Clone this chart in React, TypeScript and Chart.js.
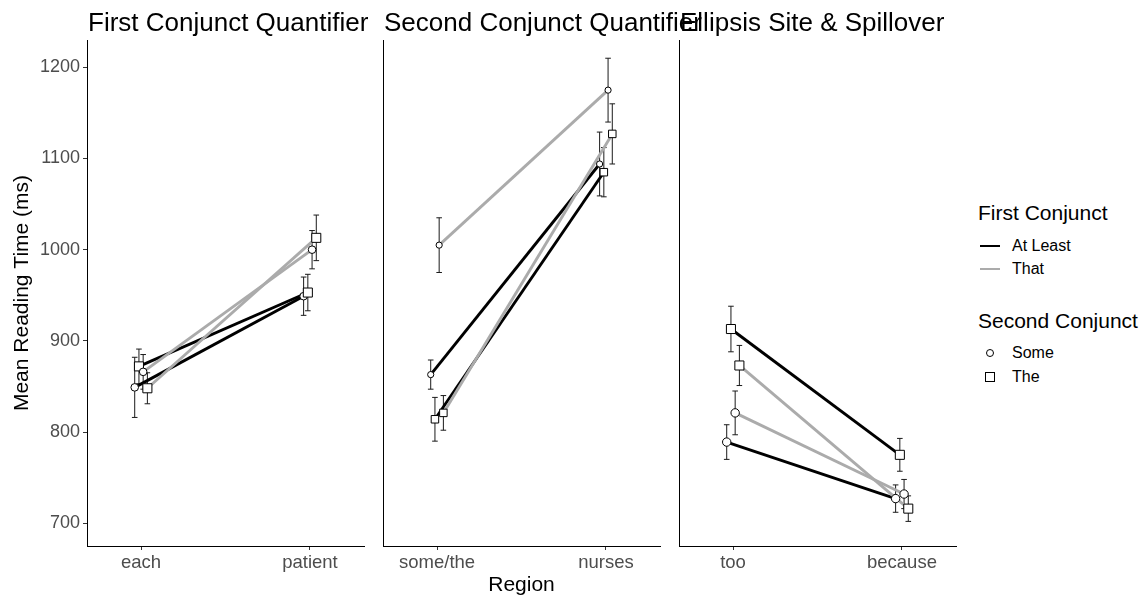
import React, { useEffect, useRef } from "react";
import { Chart, registerables } from "chart.js";
Chart.register(...registerables);

const FONT = "'Liberation Sans', Arial, sans-serif";
Chart.defaults.font.family = FONT;

// ---------------- data ----------------
const panelTitles = ["First Conjunct Quantifier", "Second Conjunct Quantifier", "Ellipsis Site & Spillover"];
const regionLabels = [["each", "patient"], ["some/the", "nurses"], ["too", "because"]];
const firstConjunctLevels = ["At Least", "That"];
const secondConjunctLevels = ["Some", "The"];
const yTickValues = [700, 800, 900, 1000, 1100, 1200];

// mean reading time per panel: [region1, region2]
const meanAtLeastSome = [[849, 949], [863, 1094], [789, 727]];
const meanAtLeastThe = [[872, 953], [814, 1085], [913, 775]];
const meanThatSome = [[866, 1000], [1005, 1175], [821, 732]];
const meanThatThe = [[848, 1013], [821, 1127], [873, 716]];
// standard errors
const seAtLeastSome = [[33, 21], [16, 35], [19, 15]];
const seAtLeastThe = [[19, 20], [24, 27], [25, 18]];
const seThatSome = [[19, 21], [30, 35], [24, 16]];
const seThatThe = [[17, 25], [19, 33], [22, 14]];

// ---------------- styling ----------------
const BLACK = "#000000";
const GRAY = "#ABABAB";
const lineColors = [BLACK, GRAY];
const pointStyles = ["circle", "rect"];
const dodge = [-0.0375, -0.0125, 0.0125, 0.0375];
const circleRadius = [3.8, 3.1, 4.2];
const rectRadius = [6.4, 5.3, 6.4];

const series = [
  { mean: meanAtLeastSome, se: seAtLeastSome, first: 0, second: 0 },
  { mean: meanAtLeastThe, se: seAtLeastThe, first: 0, second: 1 },
  { mean: meanThatSome, se: seThatSome, first: 1, second: 0 },
  { mean: meanThatThe, se: seThatThe, first: 1, second: 1 },
];

const PAGE_H = 599;
const PANEL_TOP = 40;
const X_AXIS_H = 53;
const canvasLeft = [0, 381, 677];
const canvasWidth = [366, 281, 281];

const errorBarPlugin = {
  id: "errorBars",
  beforeDatasetsDraw(chart: any) {
    const ctx = chart.ctx;
    const xs = chart.scales.x;
    const ys = chart.scales.y;
    ctx.save();
    ctx.strokeStyle = "#1a1a1a";
    ctx.lineWidth = 1;
    chart.data.datasets.forEach((ds: any) => {
      if (!ds.errors) return;
      ds.data.forEach((p: any, i: number) => {
        const x = xs.getPixelForValue(p.x);
        const yLo = ys.getPixelForValue(p.y - ds.errors[i]);
        const yHi = ys.getPixelForValue(p.y + ds.errors[i]);
        const c = 2.8;
        ctx.beginPath();
        ctx.moveTo(x, yLo);
        ctx.lineTo(x, yHi);
        ctx.moveTo(x - c, yLo);
        ctx.lineTo(x + c, yLo);
        ctx.moveTo(x - c, yHi);
        ctx.lineTo(x + c, yHi);
        ctx.stroke();
      });
    });
    ctx.restore();
  },
};

function buildDatasets(panel: number) {
  const pts = series.map((s, k) => ({
    type: "line",
    data: s.mean[panel].map((v, r) => ({ x: r + 1 + dodge[k], y: v })),
    errors: s.se[panel],
    showLine: false,
    pointStyle: pointStyles[s.second],
    pointRadius: s.second === 0 ? circleRadius[panel] : rectRadius[panel],
    pointHoverRadius: 0,
    pointBackgroundColor: "#FFFFFF",
    pointBorderColor: BLACK,
    pointBorderWidth: 1,
    borderColor: BLACK,
  }));
  const lines = series.map((s, k) => ({
    type: "line",
    data: s.mean[panel].map((v, r) => ({ x: r + 1 + dodge[k], y: v })),
    showLine: true,
    borderColor: lineColors[s.first],
    borderWidth: 2.9,
    pointRadius: 0,
    pointHoverRadius: 0,
    fill: false,
  }));
  // index 0 is drawn on top: points (reverse ggplot order) then lines
  return [...pts.reverse(), ...lines.reverse()];
}

function Panel({ index }: { index: number }) {
  const ref = useRef<HTMLCanvasElement | null>(null);
  useEffect(() => {
    if (!ref.current) return;
    const first = index === 0;
    const chart = new Chart(ref.current, {
      type: "line",
      data: { datasets: buildDatasets(index) as any },
      plugins: [errorBarPlugin],
      options: {
        animation: false,
        responsive: false,
        events: [],
        layout: { autoPadding: false, padding: { left: first ? 0 : 2, right: 2, top: PANEL_TOP, bottom: 0 } },
        plugins: { legend: { display: false }, tooltip: { enabled: false }, title: { display: false } },
        scales: {
          x: {
            type: "linear",
            min: 0.68,
            max: 2.32,
            afterBuildTicks: (s: any) => {
              s.ticks = [{ value: 1 }, { value: 2 }];
            },
            afterFit: (s: any) => {
              s.height = X_AXIS_H;
            },
            ticks: {
              callback: (v: any) => regionLabels[index][Math.round(v) - 1],
              color: "#4D4D4D",
              font: { family: FONT, size: 18.5 },
              padding: 2,
              maxRotation: 0,
              autoSkip: false,
            },
            grid: { display: true, drawOnChartArea: false, drawTicks: true, tickLength: 4, color: "#333333", lineWidth: 1 },
            border: { display: true, color: "#000000", width: 1 },
            title:
              index === 1
                ? { display: true, text: "Region", color: "#000000", font: { family: FONT, size: 21 }, padding: { top: 0, bottom: 1.5 } }
                : { display: false },
          },
          y: {
            type: "linear",
            min: 675,
            max: 1230,
            afterBuildTicks: (s: any) => {
              s.ticks = yTickValues.map((v) => ({ value: v }));
            },
            afterFit: (s: any) => {
              s.width = first ? 87 : 0;
            },
            ticks: {
              display: first,
              callback: (v: any) => String(v),
              color: "#4D4D4D",
              font: { family: FONT, size: 18 },
              padding: 3,
            },
            grid: first
              ? { display: true, drawOnChartArea: false, drawTicks: true, tickLength: 4, color: "#333333", lineWidth: 1 }
              : { display: false },
            border: { display: true, color: "#000000", width: 1 },
            title: first
              ? { display: true, text: "Mean Reading Time (ms)", color: "#000000", font: { family: FONT, size: 21 }, padding: { top: 9.5, bottom: 0 } }
              : { display: false },
          },
        },
      } as any,
    });
    return () => chart.destroy();
  }, [index]);
  return (
    <canvas
      ref={ref}
      width={canvasWidth[index]}
      height={PAGE_H}
      style={{ position: "absolute", left: canvasLeft[index], top: 0, width: canvasWidth[index], height: PAGE_H }}
    />
  );
}

function Txt({ x, cy, size, lh, children, color = "#000" }: any) {
  return (
    <div
      style={{
        position: "absolute",
        left: x,
        top: cy - lh / 2,
        height: lh,
        lineHeight: lh + "px",
        fontSize: size,
        fontFamily: FONT,
        color,
        whiteSpace: "nowrap",
      }}
    >
      {children}
    </div>
  );
}

export default function App() {
  const titleLeft = [88, 384, 680];
  return (
    <div style={{ position: "absolute", left: 0, top: 0, width: 1144, height: 599, background: "#FFFFFF", overflow: "hidden" }}>
      {[0, 1, 2].map((i) => (
        <Panel key={i} index={i} />
      ))}
      {panelTitles.map((t, i) => (
        <Txt key={t} x={titleLeft[i]} cy={21.5} size={26} lh={30}>
          {t}
        </Txt>
      ))}
      {/* legend */}
      <Txt x={978} cy={213} size={21} lh={26}>First Conjunct</Txt>
      {firstConjunctLevels.map((lab, k) => (
        <React.Fragment key={lab}>
          <div style={{ position: "absolute", left: 980, top: 246 + k * 23 - 1.4, width: 20, height: 2.8, background: lineColors[k] }} />
          <Txt x={1012} cy={246 + k * 23} size={16} lh={20}>{lab}</Txt>
        </React.Fragment>
      ))}
      <Txt x={978} cy={321} size={21} lh={26}>Second Conjunct</Txt>
      {secondConjunctLevels.map((lab, k) => (
        <React.Fragment key={lab}>
          {k === 0 ? (
            <div style={{ position: "absolute", left: 990 - 4, top: 353 - 4, width: 6, height: 6, border: "1px solid #000", borderRadius: "50%", background: "#fff" }} />
          ) : (
            <div style={{ position: "absolute", left: 990 - 5, top: 377 - 5, width: 8, height: 8, border: "1px solid #000", background: "#fff" }} />
          )}
          <Txt x={1012} cy={353 + k * 24} size={16} lh={20}>{lab}</Txt>
        </React.Fragment>
      ))}
    </div>
  );
}
